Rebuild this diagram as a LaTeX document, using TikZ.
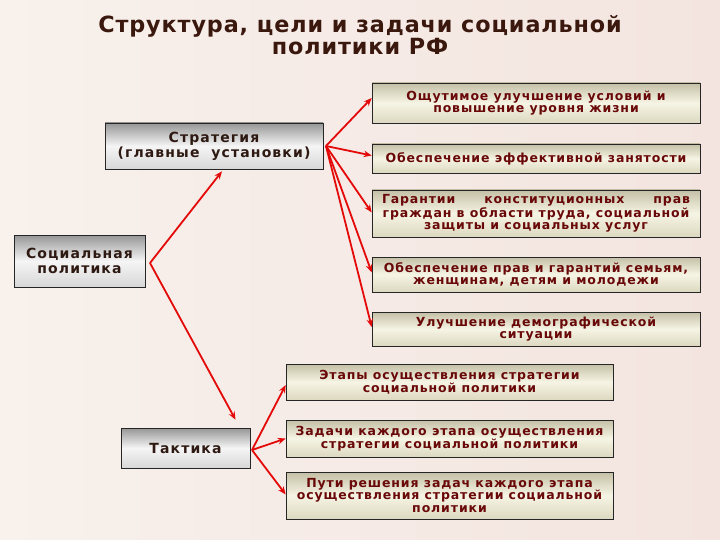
\documentclass[tikz,border=0pt]{standalone}
\usepackage{fontspec}
\setmainfont{DejaVu Sans}
\newfontfamily\boxfont[LetterSpace=7]{DejaVu Sans}
\newfontfamily\lboxfont[LetterSpace=8]{DejaVu Sans}
\newfontfamily\titlefont[LetterSpace=4]{DejaVu Sans}
\usetikzlibrary{arrows.meta,calc}
\definecolor{bgL}{RGB}{248,241,236}
\definecolor{bgR}{RGB}{243,228,223}
\definecolor{titlec}{RGB}{58,24,14}
\definecolor{maroon}{RGB}{105,8,8}
\definecolor{darktxt}{RGB}{45,25,18}
\definecolor{arr}{RGB}{228,10,10}
\definecolor{oliveT}{RGB}{196,192,166}
\definecolor{oliveM}{RGB}{246,244,228}
\definecolor{oliveB}{RGB}{220,216,192}
\definecolor{grayT}{RGB}{150,150,150}
\definecolor{grayM}{RGB}{245,245,245}
\definecolor{grayB}{RGB}{215,215,215}
\tikzset{
  rbox/.style={draw=black!85, line width=0.6pt, top color=oliveT, bottom color=oliveB, middle color=oliveM,
    inner sep=1pt, align=center, font=\boxfont\bfseries\fontsize{12.5}{12.5}\selectfont, text=maroon},
  lbox/.style={draw=black!85, line width=0.6pt, top color=grayT, bottom color=grayB, middle color=grayM,
    inner sep=1pt, align=center, font=\lboxfont\bfseries\fontsize{14}{15}\selectfont, text=darktxt},
  conn/.style={draw=arr, line width=1.8pt, -{Stealth[length=8pt,width=6.5pt]}}
}
\begin{document}
\begin{tikzpicture}[x=1pt,y=-1pt]
\useasboundingbox (0,0) rectangle (720,540);
\shade[left color=bgL, right color=bgR] (0,0) rectangle (720,540);
\node[font=\titlefont\bfseries\fontsize{22.3}{22.5}\selectfont, text=titlec, align=center] (title) at (360,35)
  {Структура, цели и задачи социальной\\политики РФ};

\node[lbox, minimum width=218pt, minimum height=46pt] (strat) at (214,146)
  {Стратегия\\(главные\ \ установки)};
\node[lbox, minimum width=131pt, minimum height=52pt] (soc) at (79.5,261)
  {Социальная\\политика};
\node[lbox, minimum width=129pt, minimum height=40pt] (tac) at (185.5,448)
  {Тактика};

\node[rbox, minimum width=328pt, minimum height=40pt] (b1) at (536,103)
  {Ощутимое улучшение условий и\\повышение уровня жизни};
\node[rbox, minimum width=328pt, minimum height=29pt] (b2) at (536,158.5)
  {Обеспечение эффективной занятости};
\node[rbox, minimum width=328pt, minimum height=47pt] (b3) at (536,213.5)
  {\makebox[308pt]{Гарантии\hfill конституционных\hfill прав}\\граждан в области труда, социальной\\защиты и социальных услуг};
\node[rbox, minimum width=328pt, minimum height=35pt] (b4) at (536,274.5)
  {Обеспечение прав и гарантий семьям,\\женщинам, детям и молодежи};
\node[rbox, minimum width=328pt, minimum height=34pt] (b5) at (536,329)
  {Улучшение демографической\\ситуации};
\node[rbox, minimum width=327pt, minimum height=36pt] (b6) at (449.5,382)
  {Этапы осуществления стратегии\\социальной политики};
\node[rbox, minimum width=327pt, minimum height=37pt] (b7) at (449.5,438.5)
  {Задачи каждого этапа осуществления\\стратегии социальной политики};
\node[rbox, minimum width=327pt, minimum height=47pt] (b8) at (449.5,495.5)
  {Пути решения задач каждого этапа\\осуществления стратегии социальной\\политики};

\coordinate (v) at (150,263);
\coordinate (sv) at (326,146);
\coordinate (tv) at (252,450);

\draw[conn] (v) -- ([xshift=8pt,yshift=-2pt]strat.south);
\draw[conn] (v) -- ([xshift=50pt,yshift=8pt]tac.north);

\draw[conn] (sv) -- ([yshift=5pt]b1.west);
\draw[conn] (sv) -- ([yshift=3pt]b2.west);
\draw[conn] (sv) -- ([yshift=1pt]b3.west);
\draw[conn] (sv) -- ([yshift=2pt]b4.west);
\draw[conn] (sv) -- ([yshift=2pt]b5.west);

\draw[conn] (tv) -- ([yshift=-3pt]b6.west);
\draw[conn] (tv) -- (b7.west);
\draw[conn] (tv) -- ([yshift=1pt]b8.west);
\end{tikzpicture}
\end{document}
